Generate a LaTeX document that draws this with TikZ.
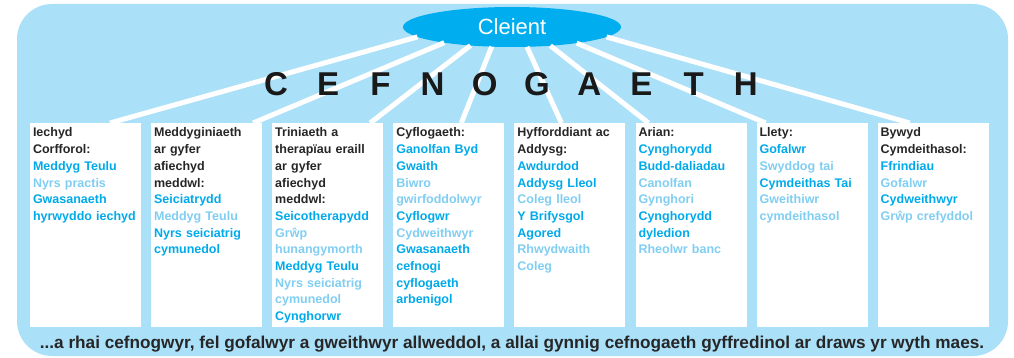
\documentclass[tikz,border=0pt]{standalone}
\usepackage{fontspec}
\setmainfont{Liberation Sans}
\usepackage{tikz}
\usetikzlibrary{positioning,shapes.geometric}

\definecolor{panel}{RGB}{171,224,249}
\definecolor{cleient}{RGB}{0,173,239}
\definecolor{role}{RGB}{0,170,234}
\definecolor{rolelt}{RGB}{128,206,242}
\definecolor{head}{RGB}{38,38,38}
\newcommand{\hd}[1]{\textcolor{head}{#1}}
\newcommand{\lt}[1]{\textcolor{rolelt}{#1}}

\begin{document}
\begin{tikzpicture}[x=1pt, y=-1pt,
  col/.style={fill=white, anchor=north west, inner xsep=3pt, inner ysep=4pt, outer sep=0pt,
              text width=105pt, minimum width=111pt, text height=10pt, text depth=186pt,
              align=left, text=role, font=\bfseries\fontsize{12.5}{16.7}\selectfont},
  hub/.style={ellipse, fill=cleient, text=white, inner sep=0pt, outer sep=0pt,
              minimum width=218pt, minimum height=40pt, font=\fontsize{22}{22}\selectfont},
  letter/.style={text=black!90, font=\bfseries\fontsize{33}{33}\selectfont},
  spoke/.style={draw=white, line width=5pt},
  node distance=10.1pt]
\useasboundingbox (0,0) rectangle (1014,358);
\fill[panel, rounded corners=35pt] (17,4) rectangle (1008,356);

\node[hub] (cl) at (512,27) {Cleient};

\node[col] (b1) at (30,123) {\hd{Iechyd}\\\hd{Corfforol:}\\Meddyg Teulu\\\lt{Nyrs practis}\\Gwasanaeth\\hyrwyddo iechyd};
\node[col, right=of b1] (b2) {\hd{Meddyginiaeth}\\\hd{ar gyfer}\\\hd{afiechyd}\\\hd{meddwl:}\\Seiciatrydd\\\lt{Meddyg Teulu}\\Nyrs seiciatrig\\cymunedol};
\node[col, right=of b2] (b3) {\hd{Triniaeth a}\\\hd{therapïau eraill}\\\hd{ar gyfer}\\\hd{afiechyd}\\\hd{meddwl:}\\Seicotherapydd\\\lt{Grŵp}\\\lt{hunangymorth}\\Meddyg Teulu\\\lt{Nyrs seiciatrig}\\\lt{cymunedol}\\Cynghorwr};
\node[col, right=of b3] (b4) {\hd{Cyflogaeth:}\\Ganolfan Byd\\Gwaith\\\lt{Biwro}\\\lt{gwirfoddolwyr}\\Cyflogwr\\\lt{Cydweithwyr}\\Gwasanaeth\\cefnogi\\cyflogaeth\\arbenigol};
\node[col, right=of b4] (b5) {\hd{Hyfforddiant ac}\\\hd{Addysg:}\\Awdurdod\\Addysg Lleol\\\lt{Coleg lleol}\\Y Brifysgol\\Agored\\\lt{Rhwydwaith}\\\lt{Coleg}};
\node[col, right=of b5] (b6) {\hd{Arian:}\\Cynghorydd\\Budd-daliadau\\\lt{Canolfan}\\\lt{Gynghori}\\Cynghorydd\\dyledion\\\lt{Rheolwr banc}};
\node[col, right=of b6] (b7) {\hd{Llety:}\\Gofalwr\\\lt{Swyddog tai}\\Cymdeithas Tai\\\lt{Gweithiwr}\\\lt{cymdeithasol}};
\node[col, right=of b7] (b8) {\hd{Bywyd}\\\hd{Cymdeithasol:}\\Ffrindiau\\\lt{Gofalwr}\\Cydweithwyr\\\lt{Grŵp crefyddol}};

% spokes from the client to each area
\foreach \a/\b/\d in {186/1/80, 193/2/102, 204/3/98, 224/4/68, 307/5/47, 334/6/13, 346/7/9, 354/8/32}
  \draw[spoke] (cl.\a) -- ([xshift=\d pt]b\b.north west);

\foreach \l [count=\i from 0] in {C,E,F,N,O,G,A,E,T,H}
  \node[letter] (t\i) at (276+52.2*\i,84.5) {\l};

\node[text=head, font=\bfseries\fontsize{17.2}{18}\selectfont] (note) at (512,344)
  {...a rhai cefnogwyr, fel gofalwyr a gweithwyr allweddol, a allai gynnig cefnogaeth gyffredinol ar draws yr wyth maes.};
\end{tikzpicture}
\end{document}
